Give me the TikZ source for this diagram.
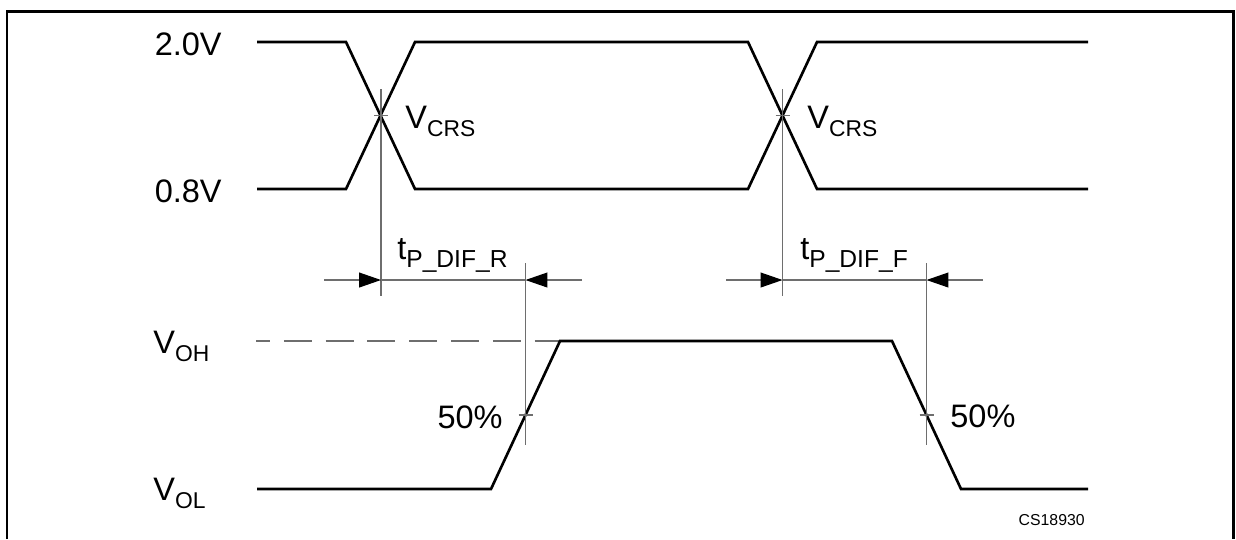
\documentclass[tikz,border=0pt]{standalone}
\usepackage{fontspec}
\setmainfont{Liberation Sans}
\usepackage{xcolor}
\usetikzlibrary{arrows.meta}
\definecolor{guidegray}{RGB}{110,110,110}
\newcommand{\lowsub}[2][13]{\raisebox{-5pt}{\fontsize{#1}{#1}\selectfont #2}}

\tikzset{
	sig/.style={line width=1.5pt, line join=miter},
	guide/.style={guidegray, line width=0.6pt},
	dimarrow/.style={guide, -{Triangle[length=12.5pt, width=8.5pt, color=black]}},
	lbl/.style={inner sep=0pt, font=\fontsize{18.5}{18.5}\selectfont},
}

\begin{document}
\begin{tikzpicture}[x=0.02cm, y=-0.02cm]
	\useasboundingbox (0,0) rectangle (1236,539);
	% frame
	\draw[line width=1.7pt](7,539)--(7,11)--(1233,11)--(1233,539);
	% input levels
	\node[lbl, anchor=base east] (lvlhi) at (222,55) {2.0V};
	\node[lbl, anchor=base east] (lvllo) at (222,202) {0.8V};
	% differential inputs
	\draw[sig](257,42)--(346,42)--(415,189)--(748,189)--(817,42)--(1088,42);
	\draw[sig](257,189)--(346,189)--(415,42)--(748,42)--(817,189)--(1088,189);
	\coordinate (crsR) at (381,115.5);
	\coordinate (crsF) at (782.5,115.5);
	\draw[guide](381,89)--(381,296);
	\draw[guide](374,115.5)--(388,115.5);
	\draw[guide](782.5,89)--(782.5,296);
	\draw[guide](775.5,115.5)--(789.5,115.5);
	\node[lbl, anchor=base west] (vcrsR) at (405,128) {V\lowsub{CRS}};
	\node[lbl, anchor=base west] (vcrsF) at (807,128) {V\lowsub{CRS}};
	% output
	\node[lbl, anchor=base west] (voh) at (153,353) {V\lowsub{OH}};
	\node[lbl, anchor=base west] (vol) at (153,500) {V\lowsub{OL}};
	\draw[guidegray, line width=1.1pt, dash pattern=on 15.9pt off 7.9pt, dash phase=7.95pt](256,341)--(560,341);
	\draw[sig](257,489)--(491,489)--(560,341)--(892,341)--(961,489)--(1088,489);
	\coordinate (midR) at (525.5,415);
	\coordinate (midF) at (926.5,415);
	\draw[guide](525.5,263)--(525.5,445);
	\draw[guide](518.5,415)--(532.5,415);
	\draw[guide](926.5,263)--(926.5,445);
	\draw[guide](919.5,415)--(933.5,415);
	\node[lbl, anchor=base east] (pctR) at (503,428) {50\%};
	\node[lbl, anchor=base west] (pctF) at (950,427) {50\%};
	% delays
	\draw[dimarrow](324,280)--(381,280);
	\draw[guide](381,280)--(525.5,280);
	\draw[dimarrow](582,280)--(525.5,280);
	\draw[dimarrow](726,280)--(782.5,280);
	\draw[guide](782.5,280)--(926.5,280);
	\draw[dimarrow](983,280)--(926.5,280);
	\node[lbl, anchor=base west] (tdifR) at (397,259) {t\lowsub[14]{P\_DIF\_R}};
	\node[lbl, anchor=base west] (tdifF) at (800,259) {t\lowsub[14]{P\_DIF\_F}};
	\node[inner sep=0pt, anchor=base east, font=\fontsize{9}{9}\selectfont] (figid) at (1085,525) {CS18930};
\end{tikzpicture}
\end{document}
